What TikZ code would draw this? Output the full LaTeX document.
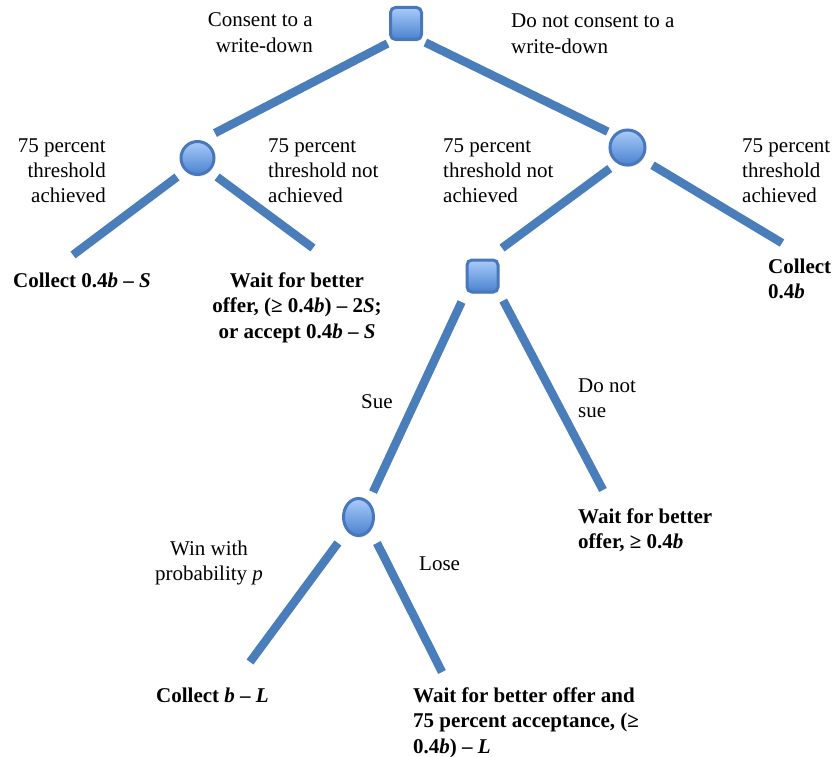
\documentclass[tikz,border=0pt]{standalone}
\usepackage{fontspec}
\setmainfont{Liberation Serif}
\usetikzlibrary{shapes.geometric,shadows}

\definecolor{linkblue}{HTML}{4A7EBB}
\definecolor{nodeedge}{HTML}{4877BC}
\definecolor{nodelight}{HTML}{A9CBFA}
\definecolor{nodedark}{HTML}{4A82CF}

\newcommand{\lblfont}{\fontsize{21}{25.5}\selectfont}

\tikzstyle{branch} = [line width=8.5pt, draw=linkblue]
\tikzstyle{choice} = [rectangle, rounded corners=5pt, minimum width=31pt, minimum height=32pt, draw=nodeedge, line width=3pt, top color=nodelight, bottom color=nodedark, drop shadow={opacity=0.25, shadow xshift=1pt, shadow yshift=-2pt}]
\tikzstyle{chance} = [ellipse, draw=nodeedge, line width=3pt, top color=nodelight, bottom color=nodedark, drop shadow={opacity=0.25, shadow xshift=1pt, shadow yshift=-2pt}]
\tikzstyle{lbl} = [inner sep=0pt, font=\lblfont]
\tikzstyle{payoff} = [inner sep=0pt, font=\lblfont\bfseries]

\begin{document}
\begin{tikzpicture}[x=1pt,y=-1pt]
\useasboundingbox (0,0) rectangle (836,757);

% decision and chance nodes
\node[choice] (root) at (406,23.5) {};
\node[chance, minimum width=33pt, minimum height=33pt] (lc) at (197.5,158) {};
\node[chance, minimum width=35pt, minimum height=35pt] (rc) at (627.5,147.5) {};
\node[choice] (ms) at (482.5,276) {};
\node[chance, minimum width=30pt, minimum height=37pt] (bc) at (358.5,517) {};

% free ends of the branches
\coordinate (lcl) at (73,255);
\coordinate (lcr) at (313,248);
\coordinate (rcr) at (782,243);
\coordinate (msr) at (603,490);
\coordinate (bcl) at (250,662);
\coordinate (bcr) at (442,672);

% branches
\draw[branch, shorten <=5.4pt, shorten >=15.8pt] (root.232) -- (lc.79);
\draw[branch, shorten <=3.4pt, shorten >=6.6pt] (root.313) -- (rc.137);
\draw[branch, shorten <=10pt] (lc.226) -- (lcl);
\draw[branch, shorten <=9.4pt] (lc.312) -- (lcr);
\draw[branch, shorten <=8.8pt, shorten >=17.6pt] (rc.236) -- (ms.73);
\draw[branch, shorten <=11.7pt] (rc.322) -- (rcr);
\draw[branch, shorten <=9.4pt, shorten >=10.2pt] (ms.south west) -- (bc.57);
\draw[branch, shorten <=8pt] (ms.south east) -- (msr);
\draw[branch, shorten <=14.9pt] (bc.230) -- (bcl);
\draw[branch, shorten <=14pt] (bc.312) -- (bcr);

% branch labels (base = last line)
\node[lbl, anchor=base east, align=right] (consent) at (313,52.5) {Consent to a\\write-down};
\node[lbl, anchor=base west, align=left] (noconsent) at (511,53.5) {Do not consent to a\\write-down};
\node[lbl, anchor=base east, align=right] (thrA) at (106,203) {75 percent\\threshold\\achieved};
\node[lbl, anchor=base west, align=left] (thrB) at (268,203) {75 percent\\threshold not\\achieved};
\node[lbl, anchor=base west, align=left] (thrC) at (443,203) {75 percent\\threshold not\\achieved};
\node[lbl, anchor=base west, align=left] (thrD) at (742,203) {75 percent\\threshold\\achieved};
\node[lbl, anchor=base west] (sue) at (361,408) {Sue};
\node[lbl, anchor=base west, align=left] (nosue) at (578,417.5) {Do not\\sue};
\node[lbl, anchor=base, align=center] (win) at (209,580.5) {Win with\\probability \textit{p}};
\node[lbl, anchor=base west] (lose) at (419,570) {Lose};

% payoffs
\node[payoff, anchor=base west] (payA) at (13,287) {Collect 0.4\textit{b} – \textit{S}};
\node[payoff, anchor=base, align=center] (payB) at (297,338) {Wait for better\\offer, (≥ 0.4\textit{b}) – 2\textit{S};\\or accept 0.4\textit{b} – \textit{S}};
\node[payoff, anchor=base west, align=left] (payC) at (768,298.5) {Collect\\0.4\textit{b}};
\node[payoff, anchor=base west, align=left] (payD) at (578,548.5) {Wait for better\\offer, ≥ 0.4\textit{b}};
\node[payoff, anchor=base west] (payE) at (156,702) {Collect \textit{b} – \textit{L}};
\node[payoff, anchor=base west, align=left] (payF) at (413,753) {Wait for better offer and\\75 percent acceptance, (≥\\0.4\textit{b}) – \textit{L}};

\end{tikzpicture}
\end{document}
